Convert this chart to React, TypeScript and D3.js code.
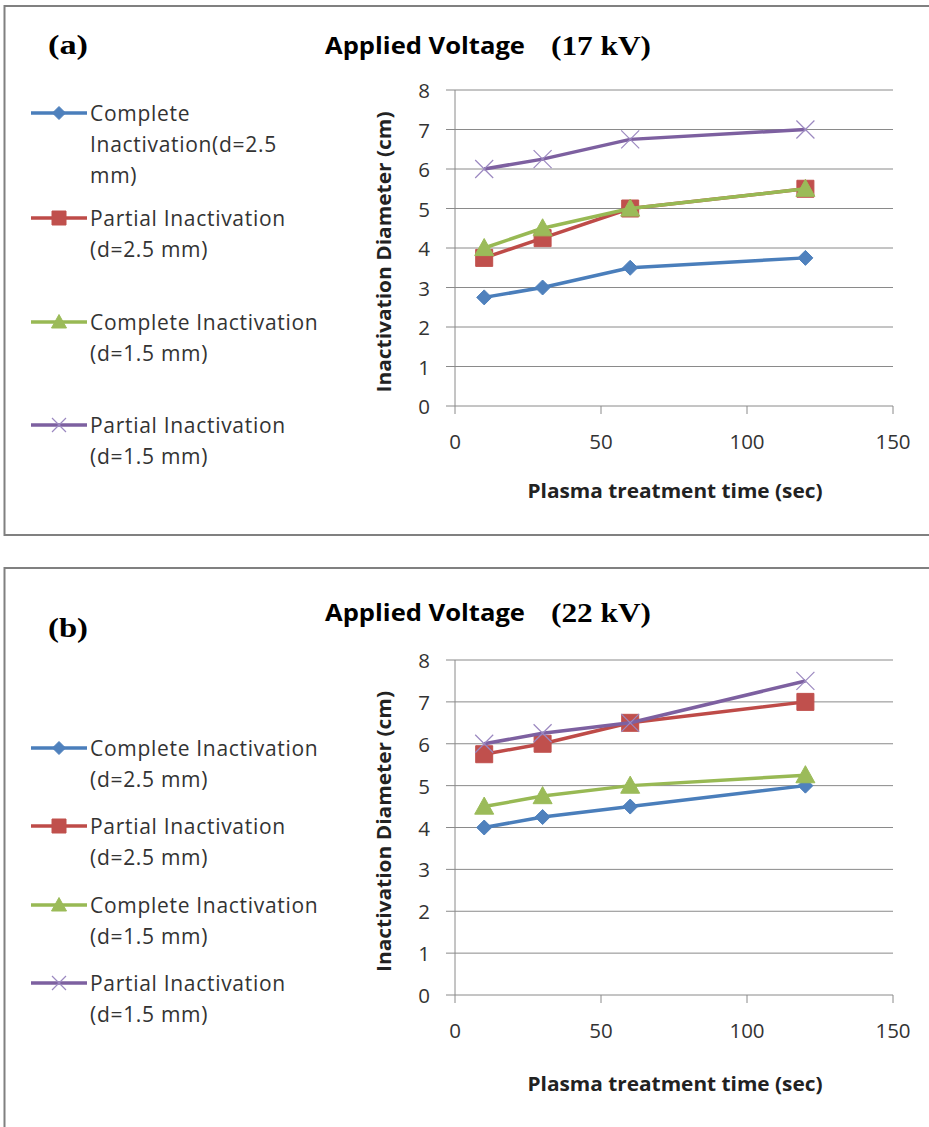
import React, { useEffect, useRef } from 'react';
import * as d3 from 'd3';

// treatment times (sec)
const times = [10, 30, 60, 120];

// panel (a) 17 kV
const aComplete25 = [2.75, 3, 3.5, 3.75];
const aPartial25 = [3.75, 4.25, 5, 5.5];
const aComplete15 = [4, 4.5, 5, 5.5];
const aPartial15 = [6, 6.25, 6.75, 7];

// panel (b) 22 kV
const bComplete25 = [4, 4.25, 4.5, 5];
const bPartial25 = [5.75, 6, 6.5, 7];
const bComplete15 = [4.5, 4.75, 5, 5.25];
const bPartial15 = [6, 6.25, 6.5, 7.5];

const xTicks = [0, 50, 100, 150];
const yTicks = [0, 1, 2, 3, 4, 5, 6, 7, 8];

const legendA = [
  ['Complete', 'Inactivation(d=2.5', 'mm)'],
  ['Partial Inactivation', '(d=2.5 mm)'],
  ['Complete Inactivation', '(d=1.5 mm)'],
  ['Partial Inactivation', '(d=1.5 mm)'],
];
const legendB = [
  ['Complete Inactivation', '(d=2.5 mm)'],
  ['Partial Inactivation', '(d=2.5 mm)'],
  ['Complete Inactivation', '(d=1.5 mm)'],
  ['Partial Inactivation', '(d=1.5 mm)'],
];

const lineColors = ['#4A7EBB', '#BE4B48', '#98B954', '#7D60A0'];
const markerColors = ['#4F81BD', '#C0504D', '#9BBB59', '#9B88C0'];
const shapes = ['diamond', 'square', 'triangle', 'x'];

const SANS = '"Open Sans", "DejaVu Sans", sans-serif';
const SERIF = '"Liberation Serif", "Times New Roman", serif';

const panels = [
  {
    tag: '(a)', kv: '(17 kV)',
    series: [aComplete25, aPartial25, aComplete15, aPartial15],
    legend: legendA, legendY: [113, 218, 322, 425],
    top: 90, bottom: 406, boxTop: 6, boxBottom: 535,
    titleY: 45, tagY: 45, xLabelY: 441, xTitleY: 490,
  },
  {
    tag: '(b)', kv: '(22 kV)',
    series: [bComplete25, bPartial25, bComplete15, bPartial15],
    legend: legendB, legendY: [748, 826, 905, 983],
    top: 660, bottom: 995, boxTop: 568, boxBottom: 1160,
    titleY: 612, tagY: 628, xLabelY: 1030, xTitleY: 1083,
  },
];

function markerPath(shape: string, s: number) {
  if (shape === 'diamond') return `M0,${-s}L${s},0L0,${s}L${-s},0Z`;
  if (shape === 'square') return `M${-s},${-s}H${s}V${s}H${-s}Z`;
  if (shape === 'triangle') return `M0,${-s}L${s},${s * 0.8}L${-s},${s * 0.8}Z`;
  return `M${-s},${-s}L${s},${s}M${-s},${s}L${s},${-s}`;
}

function drawMarker(g: any, shape: string, i: number, x: number, y: number, s: number) {
  const p = g.append('path')
    .attr('d', markerPath(shape, s))
    .attr('transform', `translate(${x},${y})`);
  if (shape === 'x') {
    p.attr('fill', 'none').attr('stroke', markerColors[i]).attr('stroke-width', 1.2);
  } else {
    p.attr('fill', markerColors[i]).attr('stroke', markerColors[i]).attr('stroke-width', 1);
  }
}

function App() {
  const svgRef = useRef<SVGSVGElement>(null);

  useEffect(() => {
    if (!svgRef.current) return;
    const svg = d3.select(svgRef.current);
    svg.selectAll('*').remove();

    svg.append('rect').attr('width', 929).attr('height', 1127).attr('fill', '#fff');

    const x = d3.scaleLinear().domain([0, 150]).range([455, 893]);

    panels.forEach((p) => {
      const g = svg.append('g');
      const y = d3.scaleLinear().domain([0, 8]).range([p.bottom, p.top]);

      // frame
      g.append('rect')
        .attr('x', 4.5).attr('y', p.boxTop)
        .attr('width', 940).attr('height', p.boxBottom - p.boxTop)
        .attr('fill', 'none').attr('stroke', '#808080').attr('stroke-width', 2);

      // headings
      g.append('text')
        .attr('x', 48).attr('y', p.tagY).attr('dominant-baseline', 'central')
        .attr('font-family', SERIF).attr('font-weight', 'bold').attr('font-size', 27)
        .attr('textLength', 40).attr('lengthAdjust', 'spacingAndGlyphs')
        .text(p.tag);
      g.append('text')
        .attr('x', 325).attr('y', p.titleY).attr('dominant-baseline', 'central')
        .attr('font-family', SANS).attr('font-weight', 'bold').attr('font-size', 23)
        .attr('textLength', 200).attr('lengthAdjust', 'spacingAndGlyphs')
        .text('Applied Voltage');
      g.append('text')
        .attr('x', 551).attr('y', p.titleY).attr('dominant-baseline', 'central')
        .attr('font-family', SERIF).attr('font-weight', 'bold').attr('font-size', 28)
        .attr('textLength', 100).attr('lengthAdjust', 'spacingAndGlyphs')
        .text(p.kv);

      // grid
      g.append('g').selectAll('line').data(yTicks).join('line')
        .attr('x1', 446).attr('x2', x(150))
        .attr('y1', (d) => y(d)).attr('y2', (d) => y(d))
        .attr('stroke', '#8a8a8a').attr('stroke-width', 1);
      g.append('line')
        .attr('x1', x(0)).attr('x2', x(0)).attr('y1', y(8)).attr('y2', y(0) + 8)
        .attr('stroke', '#8a8a8a');
      g.append('g').selectAll('line').data(xTicks.slice(1)).join('line')
        .attr('x1', (d) => x(d)).attr('x2', (d) => x(d))
        .attr('y1', y(0)).attr('y2', y(0) + 8)
        .attr('stroke', '#8a8a8a');

      // tick labels
      g.append('g').selectAll('text').data(yTicks).join('text')
        .attr('x', 430).attr('y', (d) => y(d)).attr('dominant-baseline', 'central')
        .attr('text-anchor', 'end').attr('font-family', SANS).attr('font-size', 20.5)
        .attr('fill', '#333').text((d) => d);
      g.append('g').selectAll('text').data(xTicks).join('text')
        .attr('x', (d) => x(d)).attr('y', p.xLabelY).attr('dominant-baseline', 'central')
        .attr('text-anchor', 'middle').attr('font-family', SANS).attr('font-size', 20.5)
        .attr('fill', '#333').text((d) => d);

      // axis titles
      g.append('text')
        .attr('transform', `translate(383,${(p.top + p.bottom) / 2 + 4}) rotate(-90)`)
        .attr('text-anchor', 'middle').attr('dominant-baseline', 'central')
        .attr('font-family', SANS).attr('font-weight', 'bold').attr('font-size', 20)
        .attr('textLength', 281).attr('lengthAdjust', 'spacingAndGlyphs')
        .attr('fill', '#222')
        .text('Inactivation Diameter (cm)');
      g.append('text')
        .attr('x', 675).attr('y', p.xTitleY).attr('dominant-baseline', 'central')
        .attr('text-anchor', 'middle').attr('font-family', SANS).attr('font-weight', 'bold')
        .attr('font-size', 20).attr('fill', '#222')
        .attr('textLength', 295).attr('lengthAdjust', 'spacingAndGlyphs')
        .text('Plasma treatment time (sec)');

      // series
      const line = d3.line<number>().x((_, i) => x(times[i])).y((d) => y(d));
      p.series.forEach((vals, i) => {
        g.append('path').datum(vals).attr('d', line)
          .attr('fill', 'none').attr('stroke', lineColors[i]).attr('stroke-width', 3.5)
          .attr('stroke-linejoin', 'round');
        const sz = [7.5, 8.5, 9.5, 9][i];
        vals.forEach((v, k) => drawMarker(g, shapes[i], i, x(times[k]), y(v), sz));
      });

      // legend
      p.legend.forEach((lines, i) => {
        const ly = p.legendY[i];
        g.append('line').attr('x1', 31).attr('x2', 87).attr('y1', ly).attr('y2', ly)
          .attr('stroke', lineColors[i]).attr('stroke-width', 3.5);
        drawMarker(g, shapes[i], i, 59, ly, [6.5, 7, 7.5, 7][i]);
        lines.forEach((t, k) => {
          g.append('text')
            .attr('x', 90).attr('y', ly + k * 31).attr('dominant-baseline', 'central')
            .attr('font-family', SANS).attr('font-size', 21).attr('letter-spacing', 0.7)
            .attr('fill', '#333')
            .text(t);
        });
      });
    });
  }, []);

  return (
    <svg
      ref={svgRef}
      width={929}
      height={1127}
      style={{ position: 'absolute', left: 0, top: 0 }}
    />
  );
}

export default App;
